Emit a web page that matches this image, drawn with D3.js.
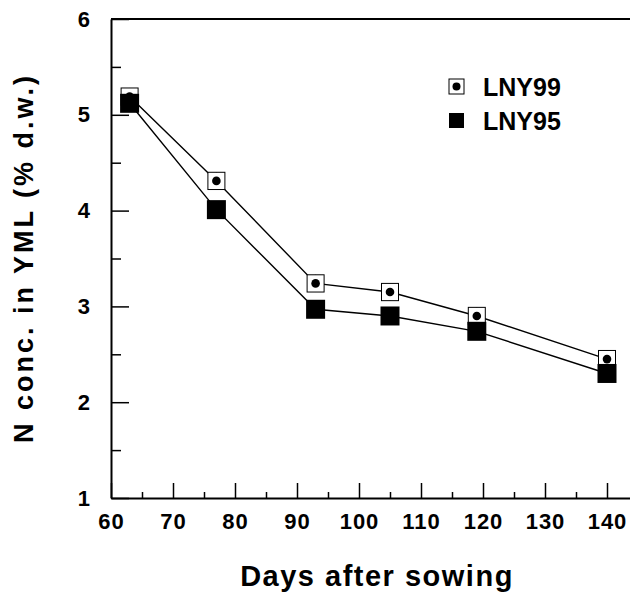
<!DOCTYPE html>
<html>
<head>
<meta charset="utf-8">
<script src="https://cdn.jsdelivr.net/npm/d3@7"></script>
<style>
  html, body { margin: 0; padding: 0; background: #fff; }
  svg { display: block; font-family: "Liberation Sans", Arial, Helvetica, sans-serif; font-weight: bold; }
</style>
</head>
<body>
<svg id="chart" width="630" height="597"></svg>
<script>
// Sampling dates (days after sowing)
const days = [63, 77, 93, 105, 119, 140];
// N concentration in young mature leaves (% dry weight)
const lny99 = [5.19, 4.31, 3.24, 3.15, 2.90, 2.45];
const lny95 = [5.12, 4.01, 2.97, 2.90, 2.74, 2.30];
// Standard errors for LNY99
const lny99Err = [0.09, 0.09, 0.09, 0.09, 0.09, 0.09];

const xMajor = [60, 70, 80, 90, 100, 110, 120, 130, 140];
const xMinor = [65, 75, 85, 95, 105, 115, 125, 135];
const yMajor = [1, 2, 3, 4, 5, 6];
const yMinor = [1.5, 2.5, 3.5, 4.5, 5.5];

const svg = d3.select("#chart");
const plotLeft = 111, plotBottom = 498, plotTop = 19, plotRight = 630.25;

const x = d3.scaleLinear().domain([60, 143.75]).range([plotLeft, plotRight]);
const y = d3.scaleLinear().domain([1, 6]).range([plotBottom, plotTop]);

// Top frame line
svg.append("line")
  .attr("x1", plotLeft).attr("x2", 630).attr("y1", plotTop).attr("y2", plotTop)
  .attr("stroke", "#000").attr("stroke-width", 2);

// X axis: major ticks with labels, minor ticks without
const gx = svg.append("g").attr("transform", `translate(0,${plotBottom})`)
  .call(d3.axisBottom(x).tickValues(xMajor).tickSize(-15).tickSizeOuter(0).tickPadding(15)
    .tickFormat(d3.format("d")));
svg.append("g").attr("transform", `translate(0,${plotBottom})`)
  .call(d3.axisBottom(x).tickValues(xMinor).tickSize(-6).tickSizeOuter(0).tickFormat(""))
  .select(".domain").remove();

// Y axis
const gy = svg.append("g").attr("transform", `translate(${plotLeft},0)`)
  .call(d3.axisLeft(y).tickValues(yMajor).tickSize(-18).tickSizeOuter(0).tickPadding(21)
    .tickFormat(d3.format("d")));
svg.append("g").attr("transform", `translate(${plotLeft},0)`)
  .call(d3.axisLeft(y).tickValues(yMinor).tickSize(-10).tickSizeOuter(0).tickFormat(""))
  .select(".domain").remove();

svg.selectAll(".domain").attr("stroke", "#000").attr("stroke-width", 2);
svg.selectAll(".tick line").attr("stroke", "#000").attr("stroke-width", 1.5);
svg.selectAll(".tick text")
  .attr("fill", "#000")
  .style("font-family", "'Liberation Sans', Arial, sans-serif")
  .style("font-weight", "bold")
  .style("font-size", "22px");
gx.selectAll(".tick text").style("letter-spacing", "1px");

// Axis titles
svg.append("text")
  .attr("x", 377).attr("y", 586)
  .attr("text-anchor", "middle")
  .style("font-size", "29px").style("letter-spacing", "1.5px")
  .text("Days after sowing");

svg.append("text")
  .attr("transform", "translate(33,258) rotate(-90)")
  .attr("text-anchor", "middle")
  .style("font-size", "27px").style("letter-spacing", "3px")
  .text("N conc. in YML (% d.w.)");

// Series lines
const line = d3.line().x((d, i) => x(days[i])).y(d => y(d));
svg.append("path").datum(lny99).attr("d", line)
  .attr("fill", "none").attr("stroke", "#000").attr("stroke-width", 1.4);
svg.append("path").datum(lny95).attr("d", line)
  .attr("fill", "none").attr("stroke", "#000").attr("stroke-width", 1.4);

// LNY99 markers: error bars, open square, filled dot
const g99 = svg.append("g").selectAll("g").data(lny99).join("g")
  .attr("transform", (d, i) => `translate(${x(days[i])},${y(d)})`);
g99.append("line")
  .attr("x1", 0).attr("x2", 0)
  .attr("y1", (d, i) => y(d + lny99Err[i]) - y(d))
  .attr("y2", (d, i) => y(d - lny99Err[i]) - y(d))
  .attr("stroke", "#000").attr("stroke-width", 1);
g99.append("rect")
  .attr("x", -8.5).attr("y", (d, i) => y(d + lny99Err[i]) - y(d))
  .attr("width", 17).attr("height", (d, i) => y(d - lny99Err[i]) - y(d + lny99Err[i]))
  .attr("fill", "#fff").attr("stroke", "#000").attr("stroke-width", 1);
g99.append("circle").attr("r", 4.3).attr("fill", "#000");

// LNY95 markers: filled squares
svg.append("g").selectAll("rect").data(lny95).join("rect")
  .attr("x", (d, i) => x(days[i]) - 9.5)
  .attr("y", d => y(d) - 9.5)
  .attr("width", 19).attr("height", 19)
  .attr("fill", "#000");

// Legend
const legend = svg.append("g");
legend.append("rect").attr("x", 449).attr("y", 79).attr("width", 15).attr("height", 15)
  .attr("fill", "#fff").attr("stroke", "#000").attr("stroke-width", 1);
legend.append("circle").attr("cx", 456.5).attr("cy", 86.5).attr("r", 4).attr("fill", "#000");
legend.append("rect").attr("x", 449).attr("y", 113).attr("width", 15).attr("height", 15)
  .attr("fill", "#000");
legend.append("text").attr("x", 483).attr("y", 96)
  .style("font-size", "25px").text("LNY99");
legend.append("text").attr("x", 483).attr("y", 130)
  .style("font-size", "25px").text("LNY95");
</script>
</body>
</html>
